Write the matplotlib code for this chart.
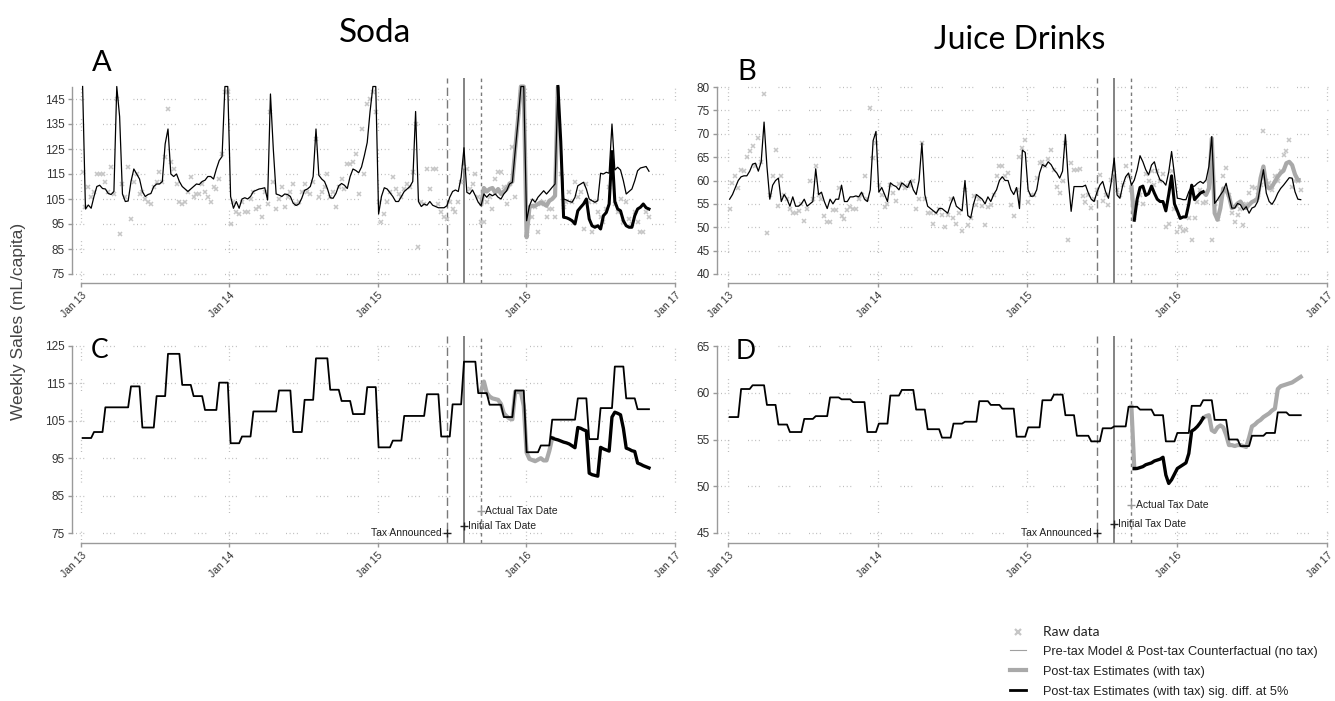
import numpy as np
import pandas as pd
import matplotlib
matplotlib.use("Agg")
import matplotlib.pyplot as plt
import matplotlib.dates as mdates
from matplotlib.lines import Line2D

plt.rcParams['font.family'] = ['Liberation Sans', 'DejaVu Sans']

# weekly sales, Jan 2013 - Oct 2016 (200 weeks)
weeks = pd.date_range("2013-01-05", periods=200, freq="7D")
months = pd.period_range("2013-01", "2016-10", freq="M")
post = weeks[140:]   # post-tax weeks, from the actual tax date

tax_announced = pd.Timestamp("2015-06-21")
tax_initial = pd.Timestamp("2015-08-01")
tax_actual = pd.Timestamp("2015-09-12")

# ---- Soda, weekly (panel A)
model_a = [150, 101, 102.6, 101.3, 106, 110, 110.5, 109.2, 109, 107.2, 106.8, 108, 150,
           138, 107, 104, 104.2, 112, 117, 115, 113, 108, 106, 106.8, 107.2, 110,
           111, 111, 112, 127, 133, 115, 114, 115, 112, 110, 109, 108, 109,
           110, 111, 110.8, 112, 112.5, 114, 114, 113, 117, 120.4, 122, 150, 150,
           106, 101.3, 104, 101.3, 105, 105.5, 105, 106, 108, 108.5, 109, 109.2, 109.5,
           104.6, 147, 125, 107, 106.6, 106, 107, 106.8, 106, 103.3, 102.4, 103, 105.3,
           108.5, 109, 110, 114, 133, 114.5, 113, 112, 109.2, 105.5, 105.3, 107.2, 110.3,
           111.2, 110.5, 109.2, 114, 117, 116.4, 115.5, 117.8, 122.4, 127.6, 140, 150, 150,
           99, 106, 109.5, 109, 107.5, 106, 104, 104, 106, 108, 109, 110, 112,
           140, 104, 102, 103, 102.5, 104, 102.5, 102, 101.5, 101.5, 101.5, 102.3, 105.7,
           108, 108.6, 108, 113.7, 125.5, 107.7, 107, 108.6, 106.3, 103.7, 102.3, 107, 105.7,
           107, 106.3, 107, 105.7, 105, 107, 108.3, 111, 111.7, 124.3, 136.3, 150, 150,
           96.3, 102.3, 105, 103.7, 105.7, 107, 108.3, 107, 108.3, 109.7, 111, 150, 128.3, 105,
           104.6, 104, 103.7, 105.7, 110.3, 111, 111.7, 109, 105, 104.3, 103.7, 104.3, 115.3, 115,
           115.7, 115.3, 135, 116.6, 117.7, 116.6, 112.3, 107, 108, 109, 112.3, 116.3, 117.4, 117.7,
           118, 116.1]
raw_a = [116, 102, 110, 106, 108, 115, 115, 115, 112, 108, 118, 107, 145,
         91, 111, 106, 118, 97, 112, 115, 107, 108, 105, 104, 103, 110,
         112, 116, 112, 122, 141, 120, 117, 111, 104, 103, 104, 108, 114,
         106, 107, 107, 111, 108, 106, 104, 110, 109, 113, 123, 148, 148,
         95, 104, 100, 99, 104, 100, 100, 105, 108, 101, 102, 98, 108,
         103, 140, 112, 101, 105, 110, 102, 106, 108, 111, 103, 104, 108,
         111, 108, 107, 112, 129, 106, 108, 110, 115, 106, 108, 102, 110,
         113, 109, 119, 119, 120, 123, 107, 133, 115, 143, 145, 148, 140,
         104, 96, 99, 104, 108, 114, 109, 107, 106, 109, 111, 110, 116,
         135, 86, 104, 103, 117, 109, 117, 117, 103, 100, 98, 97, 104,
         101, 100, 104, 112, 118, 117, 109, 111, 115, 106, 96, 96, 104,
         106, 101, 113, 116, 116, 110, 103, 111, 126, 106, 140, 148, 146,
         91, 98, 98, 102, 92, 103, 104, 98, 101, 101, 98, 145, 115, 102,
         104, 108, 104, 112, 106, 108, 93, 111, 104, 92, 104, 100, 98, 96,
         101, 110, 120, 103, 100, 105, 96, 104, 97, 95, 100, 96, 92, 92,
         100, 98]
est_a = [102.3, 109.4, 108, 109, 109.4, 107.5, 109, 107, 108, 109, 111, 112, 125, 137, 150, 150,
         89.7, 101.7, 102.3, 102.3, 103, 103.7, 103, 102.3, 104.3, 105, 106.3,
         150, 128, 97.7, 97.5, 97, 96.3, 95, 100.3, 101.7, 103, 105, 97, 94.3, 93.7, 94.3,
         93, 98.3, 99.6, 103, 124, 104, 101, 100.3, 96.3, 94.3, 93.7, 93.7, 98.3, 101,
         101.7, 103, 101.5, 101]
sig_a = "0000000000" "0000000000" "0000000111" "1111111111" "1111111111" "1111111111"

# ---- Juice drinks, weekly (panel B)
model_b = [56, 57, 58.5, 60, 60.8, 61, 61, 62, 63.5, 63.7, 62, 64, 72.5,
           63, 56, 59, 60, 60.5, 55.5, 57, 56, 54.5, 56.5, 54.5, 54.5, 55,
           56, 54.5, 55, 55.5, 62.5, 57, 57.5, 55.5, 54, 56, 55, 56, 56,
           59, 55.5, 55.5, 56.5, 56.5, 56.7, 56.5, 57.5, 56, 55.5, 58, 68.5, 70.5,
           57.5, 58.5, 57, 55.5, 59.5, 59, 58.7, 58, 59.5, 59, 58.5, 60, 58,
           57, 60, 68, 57, 54.5, 54, 53.5, 53, 54, 54, 53.5, 53, 55,
           56.5, 54.5, 54, 53.5, 60, 52.5, 52, 55, 57, 56.5, 56, 55, 56.5,
           55.5, 57, 58, 60, 60.8, 60, 60, 58, 57, 58.5, 54, 66.5, 66,
           58, 56.6, 56.7, 58, 61.6, 63.4, 63, 64, 63.4, 62.3, 61.6, 60.5, 62,
           69.8, 60.1, 53.4, 58.7, 58.7, 58.7, 58.7, 59, 57.3, 56, 55.5, 57.5, 59,
           59.8, 57.6, 56.2, 59.8, 64.8, 56.9, 56.2, 59, 60.8, 61.6, 59, 60.1, 62.3,
           65.3, 64, 62.3, 61.2, 63.3, 64, 61.6, 60.1, 59.8, 59, 61.8, 66.2, 61.2,
           56.2, 56.1, 55.9, 55.9, 57.6, 58.7, 58.8, 59.4, 59.8, 59.4, 60.1, 63, 69.4, 55.1,
           55.9, 56.9, 57.8, 59.4, 56.6, 54.1, 54.1, 55.1, 54.8, 53.7, 54.4, 53, 54.1, 54.4,
           55.5, 59, 62.3, 57.3, 55.5, 54.9, 55.9, 57.3, 58.3, 59, 59.8, 60.6, 60.5, 57.6,
           56, 55.9]
raw_b = [54, 59.5, 61, 58.5, 62.3, 62, 65, 66.4, 67.3, 63, 69, 64, 78.4,
         48.7, 57, 61, 66.6, 54.6, 61, 57, 56, 54, 53, 53, 53.4, 55,
         51.4, 54, 59.8, 56, 63, 57, 56, 52.3, 51.2, 51.2, 53.7, 53.7, 58.4,
         52.3, 51.7, 53.7, 54.4, 54, 53.9, 56, 57, 61, 56, 75.5, 64.8, 68,
         59, 57, 54.4, 55, 59, 57.3, 55.6, 59.3, 59, 58.4, 58.9, 59, 60,
         54, 56, 68, 56, 53, 53, 50.6, 53, 54, 52.6, 50, 52.6, 56,
         52, 50.7, 53, 49.3, 58, 50.5, 52, 56.7, 54.8, 56, 54.6, 50.5, 54.4,
         54.8, 57, 61, 63, 63, 61, 61.6, 54.8, 52.4, 58, 65, 67, 68.7,
         55.5, 57, 57, 60.5, 63.7, 64, 63, 64.6, 66.6, 62.3, 58.7, 57.4, 60,
         68, 47.3, 63.7, 62.3, 62.3, 62.4, 56.6, 55.5, 57, 54.1, 56, 58, 61.2,
         55.7, 57, 54.8, 60.1, 61.6, 58, 56.9, 59, 63, 61, 58, 53, 55.1,
         57, 55, 61.4, 59.8, 62, 59, 62, 60, 61.4, 50.1, 50.6, 62, 54,
         49, 50, 49.3, 49.4, 52, 47.3, 51.9, 55.5, 58, 55.1, 55.5, 60, 47.3, 55,
         51.7, 56, 60.9, 62.6, 57, 53, 51.2, 52.6, 54, 50.5, 55, 57.3, 58.7, 58.4,
         57, 59.1, 70.5, 60, 59.4, 58, 61, 60, 62, 65.5, 66.4, 68.6, 58.7, 60,
         59.8, 58]
est_b = [59, 51.5, 56, 58.5, 58.8, 56.8, 57.2, 58.8, 57.3, 56, 55.5, 55.5, 53.5, 57, 61, 55,
         53.5, 51.9, 52.2, 52.2, 55, 59, 55.9, 56.6, 57.3, 57.6,
         56.9, 58.3, 69, 53, 51.6, 54.1, 58.3, 58, 56.6, 54.1, 54.4, 55.1, 55.5, 54.6,
         54.1, 54.8, 55.4, 55.7, 56.2, 60.5, 63, 59, 58.3, 58.7, 59.8, 60.8, 61.6, 62.1,
         63.7, 64, 63.3, 61.3, 60.1, 60.1]
sig_b = "0111111111" "1111111111" "1111110010" "0000000000" "0000000000" "0000000000"

# ---- monthly averages (panels C and D)
model_c = [100.4, 102.0, 108.6, 108.6, 114.2, 103.2, 111.6, 122.9, 114.6, 111.6, 107.9, 115.2,
           99.0, 100.8, 107.5, 107.5, 113.1, 102.0, 110.6, 121.7, 113.3, 110.3, 106.8, 114.0,
           97.9, 99.7, 106.3, 106.3, 112.1, 100.8, 109.4, 120.8, 112.4, 109.3, 106.0, 113.1,
           96.6, 98.4, 105.3, 105.3, 111.0, 100.1, 108.4, 119.5, 111.0, 108.1]
est_c = [113.0, 115.5, 112.5, 111.5, 111, 110.8, 110.6, 109.5, 107, 106.2, 105.6, 105.4,
         112.8, 112.7, 112.6, 109,
         96.5, 94.8, 94.5, 94.2, 94.6, 95, 94.4, 94.4, 97, 100.4, 100.1, 99.9, 99.6, 99.3,
         99.1, 98.8, 98.3, 97.8,
         103.2, 103, 102.6, 102.3, 91, 90.6, 90.4, 90.2, 97.9, 97.5, 97.2, 96.9, 106, 107.3,
         107, 106.6, 103, 97.7, 97.4, 97, 96.8, 93.7, 93.4, 93, 92.7, 92.4]
sig_c = "0000000000" "0000000000" "0000011111" "1111111111" "1111111111" "1111111111"

model_d = [57.4, 60.4, 60.8, 58.7, 56.6, 55.8, 57.2, 57.5, 59.5, 59.3, 59.0, 55.8,
           56.7, 59.7, 60.3, 58.2, 56.1, 55.2, 56.7, 56.9, 59.1, 58.7, 58.3, 55.3,
           56.3, 59.2, 59.8, 57.6, 55.4, 54.8, 56.2, 56.4, 58.5, 58.2, 57.6, 54.8,
           55.7, 58.6, 59.2, 57.1, 55.0, 54.3, 55.4, 55.7, 57.9, 57.6]
est_d = [58.5, 51.9, 51.9, 52, 52.1, 52.3, 52.4, 52.5, 52.7, 52.8, 52.9, 53.1, 51.2, 50.3,
         50.7, 51.3,
         51.9, 52.1, 52.3, 52.5, 53.5, 55.9, 56.1, 56.4, 56.8, 57.3,
         57.5, 57.6, 56, 55.8, 56.3, 56.5, 56.3, 55.5, 54.4, 54.4, 54.3, 54.4, 54.4, 54.3,
         54.2, 55.2, 56.4, 56.6, 56.9, 57.1, 57.4, 57.6, 57.8, 58.1, 58.3, 60.4, 60.7, 60.8,
         60.9, 61, 61.1, 61.3, 61.5, 61.7]
sig_d = "0111111111" "1111111111" "1111110000" "0000000000" "0000000000" "0000000000"

year_ticks = pd.to_datetime(["2013-01-01", "2014-01-01", "2015-01-01", "2016-01-01", "2017-01-01"])
year_labels = ["Jan 13", "Jan 14", "Jan 15", "Jan 16", "Jan 17"]

GRAY_EST = '#a9a9a9'
RAW = '#c6c6c6'
GRID_LS = (0, (0.7, 2.2, 0.7, 2.2, 0.7, 2.2, 0.7, 15))


def split_sig(est, flags):
    est = np.asarray(est, float)
    sig = np.array([c == "1" for c in flags])
    ns = ~sig
    near = ns | np.r_[False, ns[:-1]] | np.r_[ns[1:], False]
    return np.where(near, est, np.nan), np.where(sig, est, np.nan)


def weekly_from_monthly(vals):
    s = pd.Series(vals, index=months)
    return s.loc[weeks.to_period("M")].to_numpy()


fig = plt.figure(figsize=(13.35, 7.01), dpi=100)
W, H = 1335, 701
x0 = mdates.date2num(year_ticks[0])
x4 = mdates.date2num(year_ticks[-1])


def make_axes(left, top, right, bottom, ylim, yticks, spine_top, pad_l, pad_r):
    ax = fig.add_axes([left / W, 1 - bottom / H, (right - left) / W, (bottom - top) / H])
    ax.set_xlim(x0 - pad_l, x4 + pad_r)
    ax.set_ylim(*ylim)
    ax.set_yticks(yticks)
    ax.set_xticks(mdates.date2num(year_ticks))
    ax.set_xticklabels(year_labels)
    for s in ['top', 'right']:
        ax.spines[s].set_visible(False)
    for s in ['left', 'bottom']:
        ax.spines[s].set_color('#9a9a9a')
        ax.spines[s].set_linewidth(1.0)
    ax.spines['left'].set_bounds(yticks[0], spine_top)
    ax.spines['bottom'].set_bounds(x0, x4)
    ax.tick_params(axis='both', colors='#9a9a9a', labelcolor='#333333',
                   labelsize=8.5, length=3, width=1, pad=2)
    for lab in ax.get_xticklabels():
        lab.set_rotation(45)
        lab.set_ha('right')
        lab.set_va('top')
        lab.set_rotation_mode('anchor')
        lab.set_fontsize(7.5)
    ax.grid(True, linestyle=GRID_LS, color='#b3b3b3', linewidth=0.9)
    ax.set_axisbelow(True)
    for d, ls, lw in [(tax_announced, (0, (6, 3)), 1.0),
                      (tax_initial, '-', 1.3),
                      (tax_actual, (0, (2.5, 2.5)), 1.0)]:
        ax.axvline(d, color='#7a7a7a', ls=ls, lw=lw, zorder=1.5)
    return ax


def draw_weekly(ax, model, raw, est, sig):
    ax.plot(weeks, raw, ls='none', marker='x', color=RAW, ms=3.5, mew=1.1, zorder=2)
    gray, black = split_sig(est, sig)
    ax.plot(post, gray, color=GRAY_EST, lw=3, zorder=3, solid_capstyle='butt')
    ax.plot(weeks, model, color='black', lw=0.9, zorder=4)
    ax.plot(post, black, color='black', lw=2.2, zorder=5)


def draw_monthly(ax, model, est, sig):
    ax.plot(weeks, weekly_from_monthly(model), color='black', lw=1.3, zorder=4)
    gray, black = split_sig(est, sig)
    ax.plot(post, gray, color=GRAY_EST, lw=3, zorder=3)
    ax.plot(post, black, color='black', lw=2.4, zorder=5)


def tax_labels(ax, y_ann, y_init, y_act):
    ax.plot([tax_announced], [y_ann], marker='+', color='#222222', ms=6, mew=1, clip_on=False, zorder=6)
    ax.annotate("Tax Announced", (tax_announced, y_ann), xytext=(-4, 0), textcoords='offset points',
                ha='right', va='center', fontsize=7.5, color='#222222')
    ax.plot([tax_initial], [y_init], marker='+', color='#222222', ms=6, mew=1, zorder=6)
    ax.annotate("Initial Tax Date", (tax_initial, y_init), xytext=(3, 0), textcoords='offset points',
                ha='left', va='center', fontsize=7.5, color='#222222')
    ax.plot([tax_actual], [y_act], marker='+', color='#9a9a9a', ms=6, mew=1, zorder=6)
    ax.annotate("Actual Tax Date", (tax_actual, y_act), xytext=(3, 0), textcoords='offset points',
                ha='left', va='center', fontsize=7.5, color='#222222')


ax_a = make_axes(72, 78, 680, 283, (71.4, 153.4), np.arange(75, 146, 10), 150, 22.1, 12.3)
draw_weekly(ax_a, model_a, raw_a, est_a, sig_a)

ax_b = make_axes(717, 78, 1331, 283, (38.07, 81.93), np.arange(40, 81, 5), 80, 26.8, 9.8)
draw_weekly(ax_b, model_b, raw_b, est_b, sig_b)

ax_c = make_axes(72, 336, 680, 543, (72.33, 127.67), np.arange(75, 126, 10), 125, 22.1, 12.3)
draw_monthly(ax_c, model_c, est_c, sig_c)
tax_labels(ax_c, 75, 76.9, 81)

ax_d = make_axes(717, 336, 1331, 543, (43.93, 66.07), np.arange(45, 66, 5), 65, 26.8, 9.8)
draw_monthly(ax_d, model_d, est_d, sig_d)
tax_labels(ax_d, 45, 46, 48)

# titles and panel letters
big = dict(family=['Lato', 'DejaVu Sans'], color='black')
fig.text(375 / W, 1 - 42 / H, "Soda", ha='center', va='baseline', fontsize=24, **big)
fig.text(1020 / W, 1 - 49 / H, "Juice Drinks", ha='center', va='baseline', fontsize=23, **big)
fig.text(92 / W, 1 - 71 / H, "A", ha='left', va='baseline', fontsize=21, **big)
fig.text(737 / W, 1 - 80 / H, "B", ha='left', va='baseline', fontsize=21, **big)
fig.text(91 / W, 1 - 358 / H, "C", ha='left', va='baseline', fontsize=19, **big)
fig.text(736 / W, 1 - 359 / H, "D", ha='left', va='baseline', fontsize=19, **big)

fig.text(19 / W, 1 - 321 / H, "Weekly Sales (mL/capita)", rotation=90, ha='center', va='center',
         fontsize=12.5, color='#444444')

handles = [Line2D([], [], ls='none', marker='x', color=RAW, ms=5, mew=1.6),
           Line2D([], [], color='#a0a0a0', lw=0.8),
           Line2D([], [], color=GRAY_EST, lw=3),
           Line2D([], [], color='black', lw=2)]
labels = ["Raw data",
          "Pre-tax Model & Post-tax Counterfactual (no tax)",
          "Post-tax Estimates (with tax)",
          "Post-tax Estimates (with tax) sig. diff. at 5%"]
leg = fig.legend(handles, labels, loc='upper left', bbox_to_anchor=(1010 / W, 1 - 626 / H),
                 frameon=False, fontsize=9.2, handlelength=1.25, handletextpad=1.35,
                 labelspacing=0.62, borderpad=0, borderaxespad=0)
leg.get_texts()[0].set_family(['Lato', 'DejaVu Sans'])
leg.get_texts()[0].set_fontsize(10)
for t in leg.get_texts():
    t.set_color('#222222')

fig.savefig("out.png", dpi=100)
